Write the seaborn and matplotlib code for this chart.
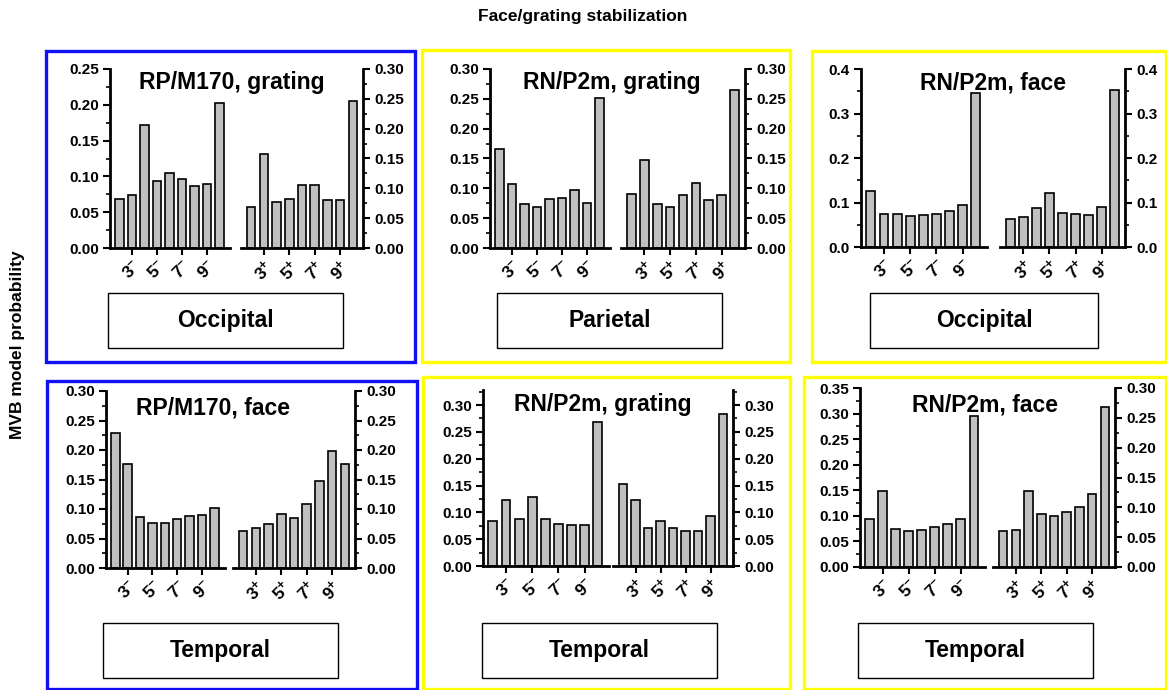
import matplotlib
matplotlib.use('Agg')
import matplotlib.pyplot as plt
import matplotlib.ticker as mticker
from matplotlib.patches import Rectangle
import seaborn as sns

# Bar categories (9 bars per group) and the labelled ones
categories = ['2', '3', '4', '5', '6', '7', '8', '9', '10']
labels_minus = [r'$\mathbf{3^{-}}$', r'$\mathbf{5^{-}}$', r'$\mathbf{7^{-}}$', r'$\mathbf{9^{-}}$']
labels_plus = [r'$\mathbf{3^{+}}$', r'$\mathbf{5^{+}}$', r'$\mathbf{7^{+}}$', r'$\mathbf{9^{+}}$']

# Panel titles and region names
titles = ['RP/M170, grating', 'RN/P2m, grating', 'RN/P2m, face',
          'RP/M170, face', 'RN/P2m, grating', 'RN/P2m, face']
regions = ['Occipital', 'Parietal', 'Occipital', 'Temporal', 'Temporal', 'Temporal']

# MVB model probabilities (left group "-", right group "+")
p1_minus = [0.069, 0.074, 0.172, 0.093, 0.105, 0.097, 0.087, 0.089, 0.203]
p1_plus = [0.069, 0.158, 0.077, 0.082, 0.105, 0.105, 0.080, 0.080, 0.246]
p2_minus = [0.166, 0.108, 0.074, 0.069, 0.082, 0.084, 0.097, 0.076, 0.252]
p2_plus = [0.091, 0.148, 0.073, 0.069, 0.089, 0.109, 0.080, 0.089, 0.265]
p3_minus = [0.125, 0.074, 0.075, 0.069, 0.071, 0.075, 0.080, 0.095, 0.346]
p3_plus = [0.062, 0.068, 0.088, 0.122, 0.076, 0.075, 0.073, 0.091, 0.352]
p4_minus = [0.228, 0.177, 0.087, 0.077, 0.076, 0.083, 0.088, 0.090, 0.102]
p4_plus = [0.062, 0.067, 0.074, 0.092, 0.084, 0.109, 0.147, 0.199, 0.177]
p5_minus = [0.084, 0.123, 0.087, 0.128, 0.087, 0.079, 0.076, 0.076, 0.268]
p5_plus = [0.152, 0.123, 0.070, 0.084, 0.070, 0.066, 0.066, 0.094, 0.284]
p6_minus = [0.094, 0.148, 0.075, 0.071, 0.073, 0.079, 0.084, 0.093, 0.295]
p6_plus = [0.061, 0.062, 0.128, 0.089, 0.086, 0.093, 0.100, 0.123, 0.268]

sns.set_style('ticks')
plt.rcParams['font.family'] = ['Liberation Sans', 'DejaVu Sans']
plt.rcParams['font.weight'] = 'bold'
plt.rcParams['mathtext.fontset'] = 'custom'
plt.rcParams['mathtext.rm'] = 'Liberation Sans:bold'
plt.rcParams['mathtext.bf'] = 'Liberation Sans:bold'
for key in ['text.color', 'axes.labelcolor', 'xtick.color', 'ytick.color', 'axes.edgecolor']:
    plt.rcParams[key] = 'black'

W, H = 1167, 690
fig = plt.figure(figsize=(W / 100, H / 100), dpi=100)


def px_axes(l, t, r, b):
    return fig.add_axes([l / W, 1 - b / H, (r - l) / W, (b - t) / H])


def px_rect(l, t, r, b, **kw):
    fig.add_artist(Rectangle((l / W, 1 - b / H), (r - l) / W, (b - t) / H,
                             transform=fig.transFigure, **kw))


def draw_group(ax, vals, ticklabels, ymax, major, side):
    sns.barplot(x=categories, y=vals, ax=ax, color='#c0c0c0', saturation=1,
                edgecolor='black', linewidth=1.2, width=0.68)
    ax.set_ylim(0, ymax)
    ax.set_xlabel('')
    ax.set_ylabel('')
    ax.set_xticks([1, 3, 5, 7])
    ax.set_xticklabels(ticklabels, rotation=45, ha='center', fontsize=12.5)
    ax.yaxis.set_major_locator(mticker.MultipleLocator(major))
    ax.yaxis.set_minor_locator(mticker.MultipleLocator(major / 2))
    fmt = '%.1f' if major >= 0.1 else '%.2f'
    ax.yaxis.set_major_formatter(mticker.FormatStrFormatter(fmt))
    ax.spines['top'].set_visible(False)
    for s in ['left', 'right', 'bottom']:
        ax.spines[s].set_linewidth(2)
    ax.tick_params(axis='x', length=5, width=1.5, pad=2)
    ax.tick_params(axis='y', which='major', length=5, width=1.5, labelsize=11, pad=3)
    ax.tick_params(axis='y', which='minor', length=3, width=1.2)
    if side == 'left':
        ax.spines['right'].set_visible(False)
    else:
        ax.spines['left'].set_visible(False)
        ax.yaxis.tick_right()
        ax.yaxis.set_label_position('right')
    for lab in ax.get_yticklabels():
        lab.set_fontweight('bold')


# (box, colour, left axes, right axes, limits, title pos, region box)
panels = [
    ((46, 51, 415, 362), '#1010f0', (110, 69, 230, 248), (241, 69, 363, 248),
     p1_minus, p1_plus, (0.25, 0.05), (0.30, 0.05), (232, 83), (108, 293, 343, 348)),
    ((422, 50, 790, 362), '#ffff00', (490, 69, 610, 248), (621, 69, 745, 248),
     p2_minus, p2_plus, (0.30, 0.05), (0.30, 0.05), (612, 83), (497, 293, 722, 348)),
    ((812, 51, 1166, 362), '#ffff00', (861, 69, 987, 247), (1000, 69, 1125, 247),
     p3_minus, p3_plus, (0.4, 0.1), (0.4, 0.1), (993, 83), (870, 293, 1098, 348)),
    ((47, 381, 417, 689), '#1010f0', (106, 391, 225, 568), (233, 391, 355, 568),
     p4_minus, p4_plus, (0.30, 0.05), (0.30, 0.05), (213, 408), (103, 623, 338, 678)),
    ((423, 377, 790, 689), '#ffff00', (483, 390, 609, 566), (613, 390, 733, 566),
     p5_minus, p5_plus, (0.328, 0.05), (0.328, 0.05), (603, 404), (482, 623, 717, 678)),
    ((804, 377, 1166, 689), '#ffff00', (860, 388, 985, 567), (993, 388, 1115, 567),
     p6_minus, p6_plus, (0.35, 0.05), (0.30, 0.05), (985, 405), (858, 623, 1093, 678)),
]

for i, (box, col, la, ra, vm, vp, lim_l, lim_r, tpos, rbox) in enumerate(panels):
    px_rect(*box, fill=False, edgecolor=col, linewidth=2.4)
    axl = px_axes(*la)
    draw_group(axl, vm, labels_minus, lim_l[0], lim_l[1], 'left')
    axl.set_xlim(-0.75, 8.85)
    axr = px_axes(*ra)
    draw_group(axr, vp, labels_plus, lim_r[0], lim_r[1], 'right')
    axr.set_xlim(-0.8, 8.8)
    fig.text(tpos[0] / W, 1 - tpos[1] / H, titles[i], ha='center', va='center',
             fontsize=16.5, fontweight='bold')
    px_rect(*rbox, facecolor='white', edgecolor='black', linewidth=1)
    fig.text((rbox[0] + rbox[2]) / 2 / W, 1 - (rbox[1] + rbox[3]) / 2 / H, regions[i],
             ha='center', va='center', fontsize=16.5, fontweight='bold')

fig.text(583 / W, 1 - 17 / H, 'Face/grating stabilization', ha='center', va='center',
         fontsize=12.5, fontweight='bold')
fig.text(18 / W, 1 - 345 / H, 'MVB model probability', ha='center', va='center',
         rotation=90, fontsize=12.5, fontweight='bold')

fig.savefig('out.png', dpi=100)
